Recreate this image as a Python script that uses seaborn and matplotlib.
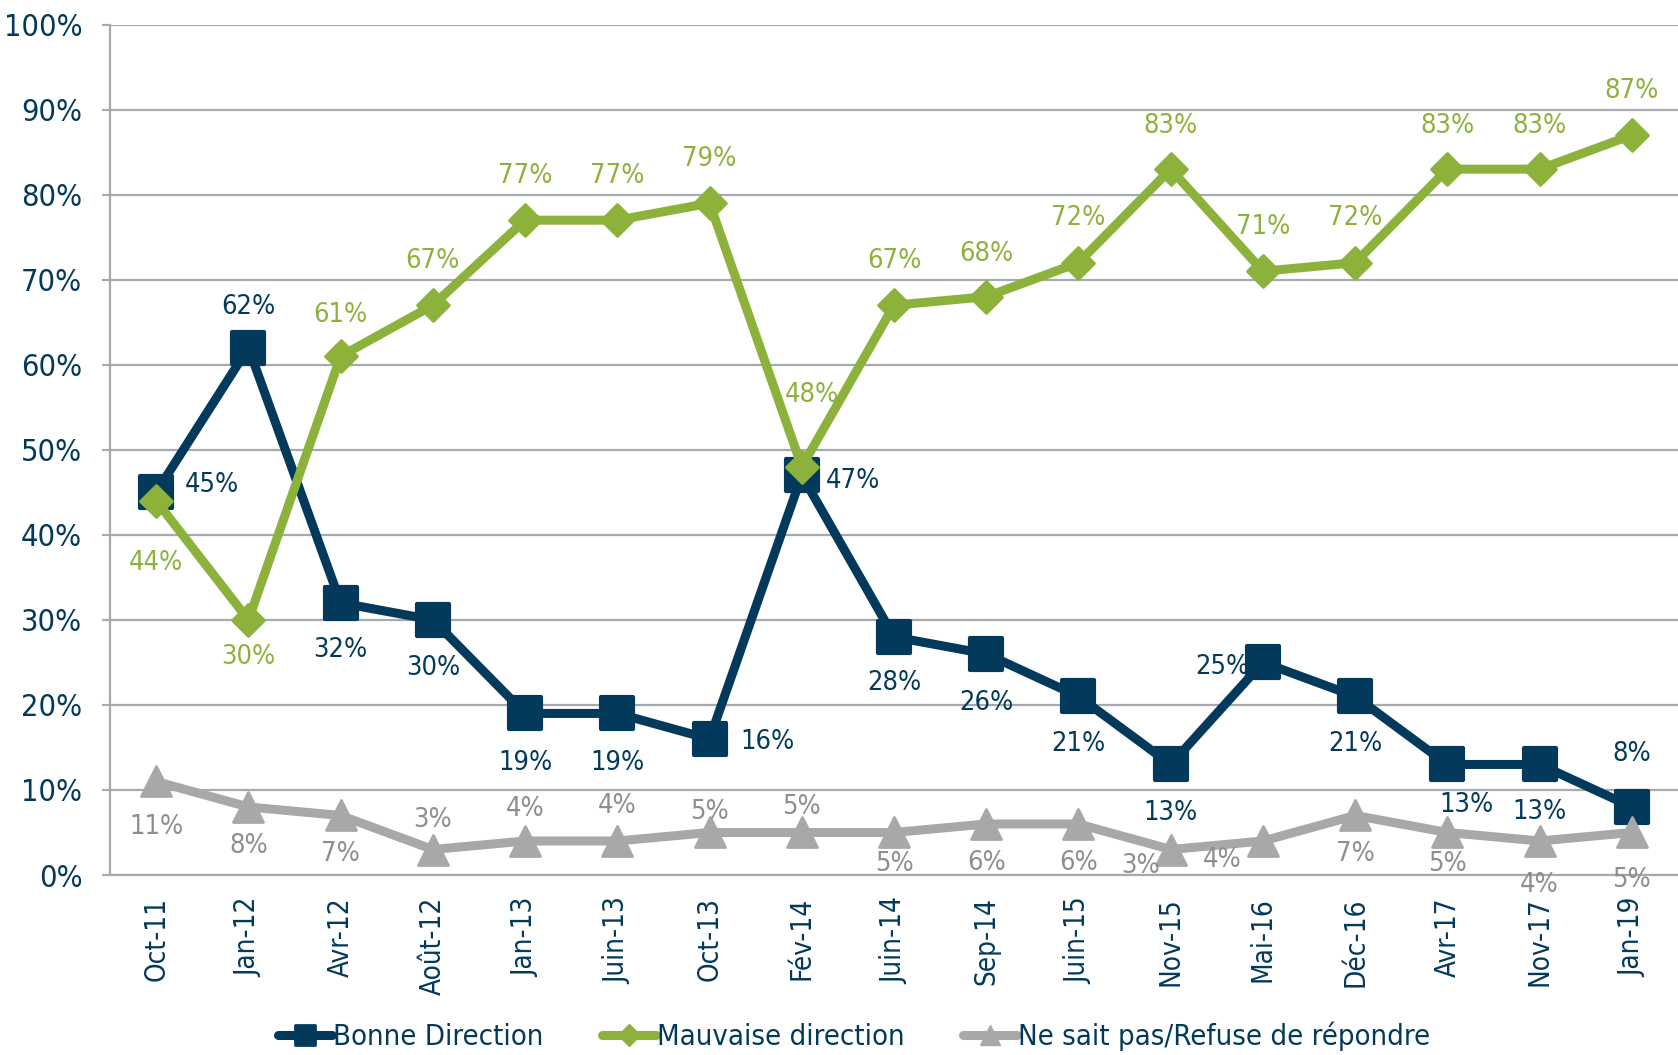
import matplotlib
matplotlib.use("Agg")
import matplotlib.pyplot as plt
import seaborn as sns
import pandas as pd
from matplotlib.lines import Line2D
from matplotlib.markers import MarkerStyle
from matplotlib import font_manager as fm

# ---- data ----
periods = ["Oct-11", "Jan-12", "Avr-12", "Août-12", "Jan-13", "Juin-13", "Oct-13", "Fév-14",
           "Juin-14", "Sep-14", "Juin-15", "Nov-15", "Mai-16", "Déc-16", "Avr-17", "Nov-17", "Jan-19"]
bonne = [45, 62, 32, 30, 19, 19, 16, 47, 28, 26, 21, 13, 25, 21, 13, 13, 8]
mauvaise = [44, 30, 61, 67, 77, 77, 79, 48, 67, 68, 72, 83, 71, 72, 83, 83, 87]
nsp = [11, 8, 7, 3, 4, 4, 5, 5, 5, 6, 6, 3, 4, 7, 5, 4, 5]
series_names = ["Bonne Direction", "Mauvaise direction", "Ne sait pas/Refuse de répondre"]
yticks = [0, 10, 20, 30, 40, 50, 60, 70, 80, 90, 100]

# ---- label offsets (points) ----
bonne_dx = [40, 0, 0, 0, 0, 0, 42, 37, 0, 0, 0, 0, -29, 0, 14, 0, 0]
bonne_dy = [5, 29, -34, -35, -36, -36, -2, -4, -33, -35, -34, -35, -3, -34, -29, -34, 38]
mauv_dx = [0, 0, 0, 0, 0, 0, 0, 7, 0, 0, 0, 0, 0, 0, 0, 0, 0]
mauv_dy = [-45, -27, 30, 32, 32, 32, 32, 52, 32, 31, 32, 31, 32, 32, 31, 31, 32]
nsp_dx = [0, 0, 0, 0, 0, 0, 0, 0, 0, 0, 0, -22, -29, 0, 0, 0, 0]
nsp_dy = [-33, -28, -28, 21, 23, 25, 15, 18, -23, -28, -28, -12, -14, -28, -23, -32, -34]

NAVY = "#033A5B"
GREEN = "#8DB23C"
GREY = "#A8A8A8"
GREY_TXT = "#8E8E8E"
GRID = "#A5A9B0"

sns.set_theme(style="white")

# pick a condensed face if one is installed, else Roboto
narrow = None
for f in fm.fontManager.ttflist:
    nm = (f.name + " " + f.fname).lower()
    if ("narrow" in nm or "condensed" in nm) and "bold" not in nm and "italic" not in nm \
            and "oblique" not in nm and f.weight in (400, "normal", "regular"):
        narrow = f
        break
if narrow is not None:
    NUMFONT = fm.FontProperties(fname=narrow.fname)
    YT_SIZE, LBL_SIZE, LEG_SIZE, XT_SIZE = 22, 19.5, 21, 20
else:
    NUMFONT = fm.FontProperties(family="Roboto")
    YT_SIZE, LBL_SIZE, LEG_SIZE, XT_SIZE = 20, 18, 19, 18

plt.rcParams["font.family"] = ["Roboto", "DejaVu Sans"]

x = list(range(len(periods)))
df = pd.DataFrame({
    "x": x * 3,
    "val": bonne + mauvaise + nsp,
    "serie": [series_names[0]] * len(x) + [series_names[1]] * len(x) + [series_names[2]] * len(x),
})

fig = plt.figure(figsize=(16.78, 10.55), dpi=100)
ax = fig.add_axes([0.0656, 0.1706, 0.9344, 0.8061])

palette = {series_names[0]: NAVY, series_names[1]: GREEN, series_names[2]: GREY}
markers = {series_names[0]: "s", series_names[1]: "D", series_names[2]: "^"}
sns.lineplot(data=df, x="x", y="val", hue="serie", style="serie", palette=palette,
             markers=markers, dashes=False, linewidth=6.5, markersize=20, ax=ax,
             legend=False, sort=False, zorder=3)

for ln in ax.lines:
    c = matplotlib.colors.to_hex(ln.get_color())
    for key, ms, mk in [(NAVY, 23.5, "s"), (GREEN, 16.5, "D"), (GREY, 21, "^")]:
        if c.lower() == key.lower():
            ln.set_marker(MarkerStyle(mk, joinstyle="round"))
            ln.set_markersize(ms)
            ln.set_markeredgecolor(key)
            ln.set_markerfacecolor(key)
            ln.set_markeredgewidth(3 if mk == "s" else 2)
            ln.set_solid_joinstyle("round")
            ln.set_solid_capstyle("round")

ax.set_xlim(-0.5, len(periods) - 0.5)
ax.set_ylim(0, 100)
ax.set_yticks(yticks)
ax.set_yticklabels([f"{v}%" for v in yticks], color=NAVY)
for t in ax.get_yticklabels():
    t.set_fontproperties(NUMFONT)
    t.set_fontsize(YT_SIZE)
ax.set_xticks(x)
ax.set_xticklabels(periods, rotation=90, color=NAVY)
for t in ax.get_xticklabels():
    t.set_fontproperties(NUMFONT)
    t.set_fontsize(XT_SIZE)
ax.set_xticks([i - 0.5 for i in range(len(periods) + 1)], minor=True)
ax.tick_params(axis="x", which="major", length=0, pad=16)
ax.tick_params(axis="x", which="minor", length=8, width=1.5, color=GRID, direction="out")
ax.tick_params(axis="y", length=6, width=1.5, color=GRID, pad=14, direction="out", left=True)
ax.set_xlabel("")
ax.set_ylabel("")
ax.grid(axis="y", color=GRID, linewidth=1.6)
ax.grid(axis="x", visible=False)
ax.set_axisbelow(True)
for s in ["top", "right"]:
    ax.spines[s].set_visible(False)
ax.spines["left"].set_color(GRID)
ax.spines["left"].set_linewidth(1.6)
ax.spines["bottom"].set_color(GRID)
ax.spines["bottom"].set_linewidth(1.6)


def labels(vals, dxs, dys, color):
    for i, v in enumerate(vals):
        t = ax.annotate(f"{v}%", (i, v), xytext=(dxs[i], dys[i]), textcoords="offset points",
                        ha="center", va="center", color=color, zorder=5,
                        annotation_clip=False)
        t.set_fontproperties(NUMFONT)
        t.set_fontsize(LBL_SIZE)


labels(bonne, bonne_dx, bonne_dy, NAVY)
labels(mauvaise, mauv_dx, mauv_dy, GREEN)
labels(nsp, nsp_dx, nsp_dy, GREY_TXT)

handles = [
    Line2D([], [], color=NAVY, lw=6.5, marker=MarkerStyle("s", joinstyle="round"), ms=14,
           mew=2, solid_capstyle="round"),
    Line2D([], [], color=GREEN, lw=6.5, marker="D", ms=11, solid_capstyle="round"),
    Line2D([], [], color=GREY, lw=6.5, marker="^", ms=14, solid_capstyle="round"),
]
legprop = NUMFONT.copy()
legprop.set_size(LEG_SIZE)
leg = fig.legend(handles, series_names, loc="center", bbox_to_anchor=(0.509, 0.018), ncol=3,
                 frameon=False, prop=legprop, handlelength=1.85, handletextpad=0.05,
                 columnspacing=2.0)
for t in leg.get_texts():
    t.set_color(NAVY)

fig.savefig("out.png", dpi=100)
